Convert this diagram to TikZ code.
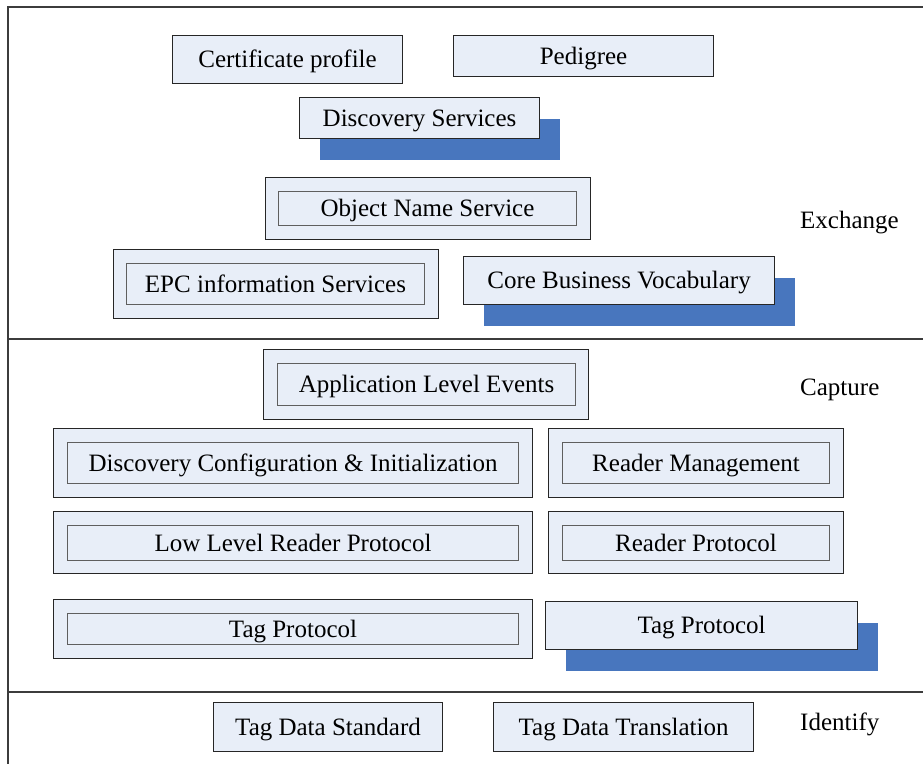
\documentclass[tikz,border=0pt]{standalone}
\usepackage{fontspec}
\setmainfont{Liberation Serif}
\usepackage{tikz}
\usetikzlibrary{shadows}
\definecolor{boxfill}{RGB}{232,238,248}
\definecolor{shadowblue}{RGB}{72,118,190}
\definecolor{framegray}{RGB}{60,60,60}
\definecolor{innergray}{RGB}{95,95,95}
\begin{document}
\begin{tikzpicture}[x=1pt,y=-1pt,
  font=\fontsize{25}{30}\selectfont,
  box/.style={draw=black!85, line width=1.1pt, fill=boxfill, anchor=north west, inner sep=0pt, text height=19pt, text depth=3pt},
  inbox/.style={box, draw=innergray, line width=1pt},
  shadowbox/.style={box, drop shadow={opacity=1, fill=shadowblue, shadow xshift=20pt, shadow yshift=-21pt}},
  layer/.style={anchor=west, inner sep=0pt, text height=19pt, text depth=3pt}]
\useasboundingbox (0,0) rectangle (923,764);
\draw[framegray, line width=1.1pt] (923,7)--(8,7)--(8,764);
\draw[framegray, line width=1.1pt] (8,339)--(923,339);
\draw[framegray, line width=1.1pt] (8,692)--(923,692);
\node[box, minimum width=230pt, minimum height=48pt] (cert) at (172,35) {Certificate profile};
\node[box, minimum width=260pt, minimum height=41pt] (pedigree) at (453,35) {Pedigree};
\node[shadowbox, minimum width=240pt, minimum height=41pt] (disc) at (299,97) {Discovery Services};
\node[box, minimum width=325pt, minimum height=62pt] (onsOuter) at (265,177) {};
\node[inbox, minimum width=298pt, minimum height=34pt] (ons) at (278,191) {Object Name Service};
\node[box, minimum width=325pt, minimum height=69pt] (epcisOuter) at (113,249) {};
\node[inbox, minimum width=298pt, minimum height=41pt] (epcis) at (126,263) {EPC information Services};
\node[shadowbox, minimum width=311pt, minimum height=48pt] (cbv) at (463,256) {Core Business Vocabulary};
\node[layer] (exchange) at (800,220) {Exchange};
\node[box, minimum width=325pt, minimum height=70pt] (aleOuter) at (263,349) {};
\node[inbox, minimum width=298pt, minimum height=42pt] (ale) at (277,363) {Application Level Events};
\node[box, minimum width=479pt, minimum height=69pt] (dciOuter) at (53,428) {};
\node[inbox, minimum width=451pt, minimum height=41pt] (dci) at (67,442) {Discovery Configuration \& Initialization};
\node[box, minimum width=295pt, minimum height=69pt] (rmOuter) at (548,428) {};
\node[inbox, minimum width=267pt, minimum height=41pt] (rm) at (562,442) {Reader Management};
\node[box, minimum width=479pt, minimum height=62pt] (llrpOuter) at (53,511) {};
\node[inbox, minimum width=451pt, minimum height=35pt] (llrp) at (67,525) {Low Level Reader Protocol};
\node[box, minimum width=295pt, minimum height=62pt] (rpOuter) at (548,511) {};
\node[inbox, minimum width=267pt, minimum height=35pt] (rp) at (562,525) {Reader Protocol};
\node[box, minimum width=479pt, minimum height=59pt] (tagOuter) at (53,599) {};
\node[inbox, minimum width=451pt, minimum height=31pt] (tag) at (67,613) {Tag Protocol};
\node[shadowbox, minimum width=312pt, minimum height=48pt] (tagTwo) at (545,601) {Tag Protocol};
\node[layer] (capture) at (800,387) {Capture};
\node[box, minimum width=229pt, minimum height=49pt] (tds) at (213,702) {Tag Data Standard};
\node[box, minimum width=260pt, minimum height=49pt] (tdt) at (493,702) {Tag Data Translation};
\node[layer] (identify) at (800,722) {Identify};
\end{tikzpicture}
\end{document}
